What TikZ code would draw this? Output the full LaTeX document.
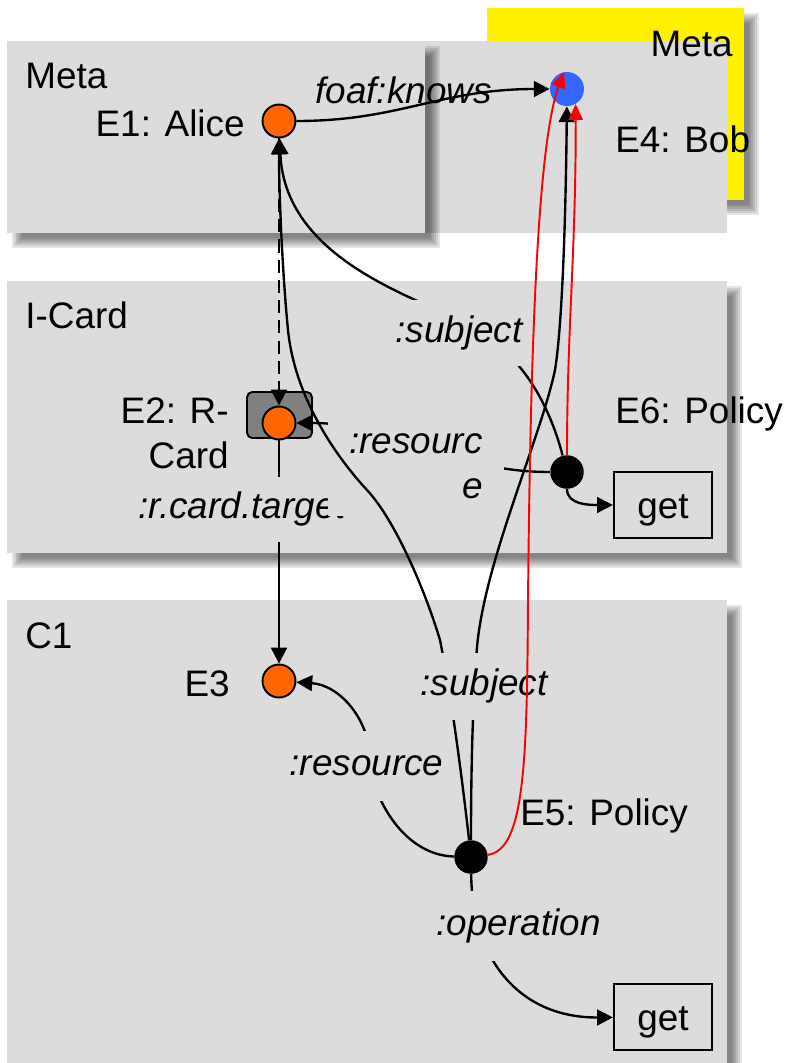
\documentclass[tikz,border=0pt]{standalone}
\usepackage{fontspec}
\setmainfont{Liberation Sans}
\usetikzlibrary{arrows.meta}
\definecolor{panelgray}{RGB}{220,220,220}
\definecolor{cardgray}{RGB}{128,128,128}
\definecolor{entorange}{RGB}{255,102,0}
\definecolor{bobblue}{RGB}{51,102,255}
\newcommand{\panelshadow}[4]{%
  \foreach \s in {0,2,4,6,8,10}
    \fill[black, opacity=0.1] (#1+5+\s,#2+5+\s) rectangle (#3+15-\s,#4+15-\s);
}
\tikzset{
  txt/.style={inner sep=0pt, font=\fontsize{21}{25.5}\selectfont},
  lbl/.style={inner sep=0pt, fill=panelgray, text height=0.55cm, text depth=0.19cm,
    font=\fontsize{21}{25.5}\selectfont\itshape},
  ent/.style={circle, draw, line width=1.1pt, fill=entorange, minimum size=0.66cm, inner sep=0pt},
  pol/.style={circle, fill=black, minimum size=0.67cm, inner sep=0pt},
  getbox/.style={draw, line width=1.3pt, minimum width=1.96cm, minimum height=1.32cm,
    inner sep=0pt, text height=0.75cm, text depth=0.2cm, font=\fontsize{21}{25.5}\selectfont},
  edge/.style={draw, line width=1.35pt, -{Triangle[length=9pt,width=9pt]}},
  redge/.style={draw=red, line width=1.1pt, -{Triangle[length=9pt,width=8pt]}}
}
\begin{document}
\begin{tikzpicture}[x=0.02cm,y=-0.02cm]
\useasboundingbox (0,0) rectangle (788,1063);

% panels
\panelshadow{487}{8}{744}{200}
\fill[yellow] (487,8) rectangle (744,200);
\fill[panelgray] (425,41) rectangle (727,233);
\panelshadow{7}{41}{425}{233}
\fill[panelgray] (7,41) rectangle (425,233);
\panelshadow{7}{281}{727}{553}
\fill[panelgray] (7,281) rectangle (727,553);
\panelshadow{7}{600}{727}{1080}
\fill[panelgray] (7,600) rectangle (727,1080);

\node[txt, anchor=base west] (metaA) at (25,88) {Meta};
\node[txt, anchor=base east] (metaB) at (733,56) {Meta};
\node[txt, anchor=base west] (icard) at (25,328) {I-Card};
\node[txt, anchor=base west] (cone) at (25,648) {C1};

\node[ent] (alice) at (279,121) {};
\node[circle, fill=bobblue, minimum size=0.68cm, inner sep=0pt] (bob) at (567,89) {};
\node[draw, fill=cardgray, rounded corners=3pt, line width=1.1pt, minimum width=1.3cm, minimum height=0.92cm] (cardbox) at (279.5,415) {};
\node[ent] (card) at (279,423) {};
\node[ent] (e3) at (279,681) {};
\node[pol] (e6) at (567,472) {};
\node[pol] (e5) at (471,857) {};
\node[getbox] (getA) at (663,505) {get};
\node[getbox] (getB) at (663,1017) {get};

\node[txt, anchor=base east] (tAlice) at (245,136) {E1: Alice};
\node[txt, anchor=base west] (tBob) at (615,152) {E4: Bob};
\node[txt, anchor=east, align=right] (tCard) at (229,433) {E2: R-\\Card};
\node[txt, anchor=base west] (tPolA) at (615,423) {E6: Policy};
\node[txt, anchor=base east] (tE3) at (230,696) {E3};
\node[txt, anchor=base west] (tPolB) at (520,825) {E5: Policy};
\node[txt, font=\fontsize{21}{25.5}\selectfont\itshape, anchor=base west] (foaf) at (315,103) {foaf:knows};

\draw[edge] (alice) .. controls (400,121) and (440,89) .. (bob);
\draw[edge, dash pattern=on 7.5pt off 4pt] (alice) -- (card);
\draw[edge] (card) -- (e3);
\draw[edge] (e6) to[out=180,in=0] (card);
\draw[edge] (e6) .. controls (548,400) and (520,355) .. (475,328) .. controls (430,301) and (285,265) .. (alice);
\draw[edge] (e6) .. controls (567,505) and (590,505) .. (getA);
\draw[edge] (e5) .. controls (471,760) and (473,700) .. (477,647) .. controls (485,560) and (540,440) .. (555,370) .. controls (563,320) and (566,200) .. (bob);
\draw[edge] (e5) .. controls (400,855) and (370,790) .. (370,760) .. controls (370,720) and (340,685) .. (e3);
\draw[edge] (e5) .. controls (472,960) and (520,1018) .. (getB);

\node[lbl, minimum width=4.3cm, minimum height=1.3cm] (rct) at (242,509) {:r.card.target};
\node[inner sep=0pt, fill=panelgray, align=right, minimum width=3.52cm, minimum height=1.98cm,
  font=\fontsize{21}{25.5}\selectfont\itshape] (icres) at (416,466) {:resourc\\e};
\node[lbl, minimum width=2.8cm, minimum height=1.32cm] (icsubj) at (459,333) {:subject};

\draw[edge] (e5) .. controls (460,760) and (450,690) .. (440,640) .. controls (425,590) and (395,520) .. (367,490) .. controls (339,460) and (295,400) .. (288,330) .. controls (283,280) and (279,200) .. (alice);

\node[lbl, minimum width=2.7cm, minimum height=1.34cm] (csubj) at (484,686) {:subject};
\node[lbl, minimum width=3.2cm, minimum height=1.4cm] (cres) at (366.5,766) {:resource};
\node[lbl, minimum width=3.4cm, minimum height=1.4cm] (oper) at (518.5,926) {:operation};

\draw[redge] (e6) .. controls (567,330) and (576,250) .. (bob.-60);
\draw[redge] (e5) .. controls (525,850) and (527,760) .. (528,600) .. controls (530,400) and (535,150) .. (bob.100);
\end{tikzpicture}
\end{document}
